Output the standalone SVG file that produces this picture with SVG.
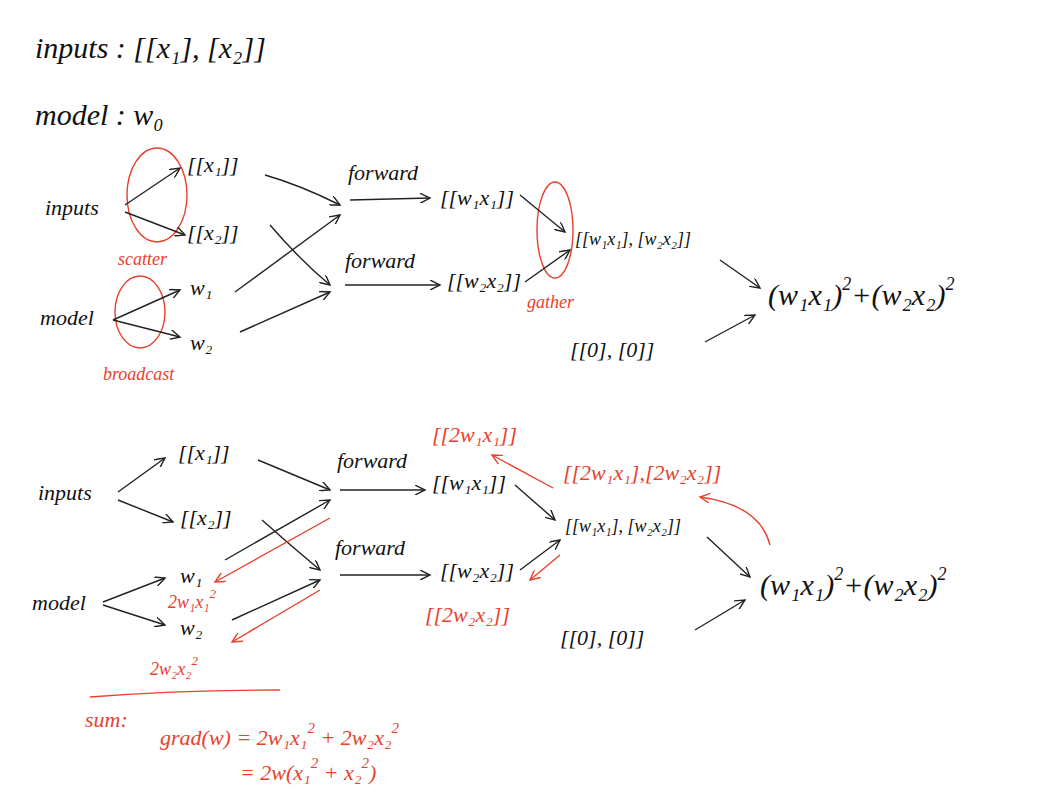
<svg xmlns="http://www.w3.org/2000/svg" width="1048" height="800" viewBox="0 0 1048 800">
<defs>
<marker id="a" markerWidth="12" markerHeight="10" refX="10" refY="5" orient="auto" markerUnits="userSpaceOnUse"><path d="M0,0 L10,5 L0,10" fill="none" stroke="#222" stroke-width="1.4"/></marker>
<marker id="r" markerWidth="12" markerHeight="10" refX="10" refY="5" orient="auto" markerUnits="userSpaceOnUse"><path d="M0,0 L10,5 L0,10" fill="none" stroke="#e8412c" stroke-width="1.4"/></marker>
</defs>
<style>
text{font-family:"Liberation Serif",serif;font-style:italic;fill:#111}
.b{font-size:30px}.m{font-size:22px}.s{font-size:18px}
.red{fill:#e8412c}
.k{stroke:#222;stroke-width:1.4;fill:none;marker-end:url(#a)}
.rk{stroke:#e8412c;stroke-width:1.4;fill:none;marker-end:url(#r)}
.re{stroke:#e8412c;stroke-width:1.4;fill:none}
</style>
<rect width="1048" height="800" fill="#fff"/>
<g id="header">
<text x="35" y="58" class="b">inputs : [[x₁], [x₂]]</text>
<text x="35" y="125" class="b">model : w₀</text>
</g>
<g id="top-nodes">
<text x="45" y="215" class="m">inputs</text>
<text x="40" y="325" class="m">model</text>
<text x="187" y="172" class="m">[[x₁]]</text>
<text x="187" y="240" class="m">[[x₂]]</text>
<text x="190" y="295" class="m">w₁</text>
<text x="190" y="350" class="m">w₂</text>
<text x="348" y="180" class="m">forward</text>
<text x="345" y="268" class="m">forward</text>
<text x="440" y="205" class="m">[[w₁x₁]]</text>
<text x="447" y="288" class="m">[[w₂x₂]]</text>
<text x="575" y="245" class="s">[[w₁x₁], [w₂x₂]]</text>
<text x="768" y="305" class="b">(w₁x₁)<tspan dy="-15" font-size="18">2</tspan><tspan dy="15">+(w₂x₂)</tspan><tspan dy="-15" font-size="18">2</tspan></text>
<text x="570" y="357" class="m">[[0], [0]]</text>
<text x="118" y="265" class="s red">scatter</text>
<text x="527" y="308" class="s red">gather</text>
<text x="103" y="380" class="s red">broadcast</text>
</g>
<g id="bottom-nodes">
<text x="38" y="500" class="m">inputs</text>
<text x="32" y="610" class="m">model</text>
<text x="178" y="460" class="m">[[x₁]]</text>
<text x="180" y="525" class="m">[[x₂]]</text>
<text x="180" y="583" class="m">w₁</text>
<text x="180" y="635" class="m">w₂</text>
<text x="337" y="468" class="m">forward</text>
<text x="335" y="555" class="m">forward</text>
<text x="432" y="490" class="m">[[w₁x₁]]</text>
<text x="440" y="578" class="m">[[w₂x₂]]</text>
<text x="565" y="532" class="s">[[w₁x₁], [w₂x₂]]</text>
<text x="760" y="595" class="b">(w₁x₁)<tspan dy="-15" font-size="18">2</tspan><tspan dy="15">+(w₂x₂)</tspan><tspan dy="-15" font-size="18">2</tspan></text>
<text x="560" y="645" class="m">[[0], [0]]</text>
<text x="432" y="442" class="m red">[[2w₁x₁]]</text>
<text x="425" y="622" class="m red">[[2w₂x₂]]</text>
<text x="563" y="480" class="m red">[[2w₁x₁],[2w₂x₂]]</text>
<text x="168" y="608" class="s red">2w₁x₁<tspan dy="-10" font-size="13">2</tspan></text>
<text x="150" y="675" class="s red">2w₂x₂<tspan dy="-10" font-size="13">2</tspan></text>
<text x="85" y="727" class="m red">sum:</text>
<text x="160" y="745" class="m red">grad(w) = 2w₁x₁<tspan dy="-12" font-size="15">2</tspan><tspan dy="12"> + 2w₂x₂</tspan><tspan dy="-12" font-size="15">2</tspan></text>
<text x="240" y="780" class="m red">= 2w(x₁<tspan dy="-12" font-size="15">2</tspan><tspan dy="12"> + x₂</tspan><tspan dy="-12" font-size="15">2</tspan><tspan dy="12">)</tspan></text>
</g>
<g id="connectors">
<ellipse cx="157" cy="195" rx="30" ry="47" class="re"/>
<ellipse cx="140" cy="312" rx="25" ry="36" class="re"/>
<ellipse cx="555" cy="230" rx="18" ry="48" class="re"/>
<path d="M125,205 L180,168" class="k"/>
<path d="M125,212 L185,235" class="k"/>
<path d="M113,320 L180,290" class="k"/>
<path d="M113,320 L180,337" class="k"/>
<path d="M265,175 Q300,185 340,205" class="k"/>
<path d="M270,225 Q300,260 330,285" class="k"/>
<path d="M235,292 L340,215" class="k"/>
<path d="M240,332 L330,292" class="k"/>
<path d="M350,200 L430,198" class="k"/>
<path d="M345,285 L440,285" class="k"/>
<path d="M520,195 L565,232" class="k"/>
<path d="M525,282 L570,250" class="k"/>
<path d="M720,260 L760,288" class="k"/>
<path d="M705,342 L755,315" class="k"/>
<path d="M118,492 L165,458" class="k"/>
<path d="M118,500 L173,522" class="k"/>
<path d="M103,602 L165,578" class="k"/>
<path d="M103,605 L165,625" class="k"/>
<path d="M258,460 L330,490" class="k"/>
<path d="M262,520 Q290,545 320,570" class="k"/>
<path d="M225,560 L330,500" class="k"/>
<path d="M232,620 L320,580" class="k"/>
<path d="M340,490 L425,490" class="k"/>
<path d="M340,575 L430,575" class="k"/>
<path d="M515,485 L555,520" class="k"/>
<path d="M520,570 L560,540" class="k"/>
<path d="M707,537 L750,577" class="k"/>
<path d="M695,630 L745,600" class="k"/>
<path d="M330,518 L215,582" class="rk"/>
<path d="M320,590 L232,642" class="rk"/>
<path d="M553,488 L492,455" class="rk"/>
<path d="M560,555 L530,580" class="rk"/>
<path d="M770,545 Q760,505 700,497" class="rk"/>
<path d="M90,697 Q180,690 280,690" class="re"/>
</g>
</svg>
